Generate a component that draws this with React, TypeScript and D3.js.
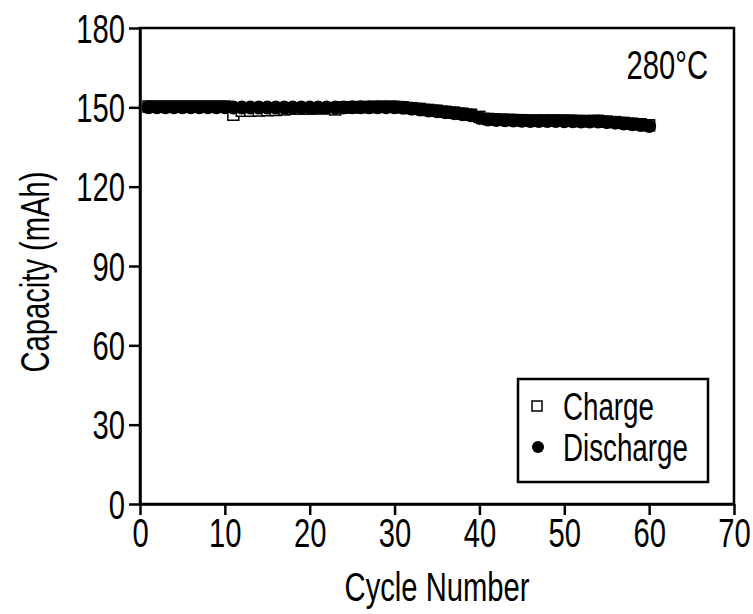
import React, { useEffect, useRef } from 'react';
import * as d3 from 'd3';

// cycle numbers 1..60
const cycles: number[] = [
  1, 2, 3, 4, 5, 6, 7, 8, 9, 10,
  11, 12, 13, 14, 15, 16, 17, 18, 19, 20,
  21, 22, 23, 24, 25, 26, 27, 28, 29, 30,
  31, 32, 33, 34, 35, 36, 37, 38, 39, 40,
  41, 42, 43, 44, 45, 46, 47, 48, 49, 50,
  51, 52, 53, 54, 55, 56, 57, 58, 59, 60,
];

// charge capacity (mAh)
const charge: number[] = [
  150.3, 150.3, 150.3, 150.3, 150.3, 150.3, 150.3, 150.3, 150.3, 150.3,
  147.2, 148.7, 148.7, 148.8, 148.9, 149.0, 149.2, 149.5, 149.5, 149.5,
  149.6, 149.6, 149.2, 150.0, 150.0, 150.1, 150.1, 150.2, 150.2, 150.2,
  150.0, 149.7, 149.4, 149.0, 148.7, 148.3, 148.0, 147.6, 147.2, 146.4,
  145.6, 145.4, 145.3, 145.2, 145.1, 145.0, 145.0, 145.0, 145.0, 145.0,
  144.9, 144.8, 144.8, 144.9, 144.6, 144.4, 144.1, 143.8, 143.6, 143.2,
];

// discharge capacity (mAh)
const discharge: number[] = [
  150.0, 150.0, 150.0, 150.0, 150.0, 150.0, 150.0, 150.0, 150.0, 150.0,
  149.9, 149.9, 149.9, 149.9, 149.9, 149.9, 149.9, 149.9, 149.9, 149.9,
  149.9, 149.9, 149.9, 149.9, 150.0, 150.0, 150.0, 150.0, 150.0, 150.0,
  149.8, 149.5, 149.2, 148.8, 148.5, 148.1, 147.8, 147.4, 147.0, 146.0,
  145.4, 145.2, 145.1, 145.0, 144.9, 144.8, 144.8, 144.8, 144.8, 144.7,
  144.7, 144.6, 144.6, 144.6, 144.4, 144.2, 143.9, 143.6, 143.3, 142.9,
];

const xTicks: number[] = [0, 10, 20, 30, 40, 50, 60, 70];
const yTicks: number[] = [0, 30, 60, 90, 120, 150, 180];

const FONT = "'Liberation Sans', Arial, sans-serif";
const FS = '40px';
const SX = 0.73; // narrow the glyphs, the original uses a condensed face

export default function App() {
  const ref = useRef<SVGSVGElement | null>(null);

  useEffect(() => {
    const svg = d3.select(ref.current);
    svg.selectAll('*').remove();

    const margin = { top: 28, right: 19, bottom: 110, left: 140 };
    const width = 753 - margin.left - margin.right;
    const height = 614 - margin.top - margin.bottom;

    const x = d3.scaleLinear().domain([0, 70]).range([0, width]);
    const y = d3.scaleLinear().domain([0, 180]).range([height, 0]);

    const g = svg.append('g').attr('transform', `translate(${margin.left},${margin.top})`);

    // narrow text placed at (px, py)
    const label = (parent: any, px: number, py: number, txt: string, anchor = 'start', size = FS) =>
      parent.append('text')
        .attr('transform', `translate(${px},${py}) scale(${SX},1)`)
        .attr('text-anchor', anchor)
        .style('font-family', FONT)
        .style('font-size', size)
        .text(txt);

    // frame
    g.append('rect')
      .attr('x', 0).attr('y', 0)
      .attr('width', width).attr('height', height)
      .attr('fill', 'none').attr('stroke', '#000').attr('stroke-width', 2.5);

    const xAxis = g.append('g')
      .attr('transform', `translate(0,${height})`)
      .call(d3.axisBottom(x).tickValues(xTicks).tickSizeInner(11).tickSizeOuter(0).tickPadding(6));
    const yAxis = g.append('g')
      .call(d3.axisLeft(y).tickValues(yTicks).tickSizeInner(11).tickSizeOuter(0).tickPadding(6));

    [xAxis, yAxis].forEach(a => {
      a.select('.domain').attr('stroke', '#000').attr('stroke-width', 2.5);
      a.selectAll('.tick line').attr('stroke', '#000').attr('stroke-width', 2.5);
      a.selectAll('.tick text')
        .attr('fill', '#000')
        .style('font-family', FONT)
        .style('font-size', FS);
    });
    xAxis.selectAll('.tick text')
      .attr('y', 0)
      .attr('dy', 0)
      .attr('transform', `translate(0,43) scale(${SX},1)`);
    yAxis.selectAll('.tick text')
      .attr('x', 0)
      .attr('dy', '0.35em')
      .attr('transform', `translate(-15,0) scale(${SX},1)`);

    // axis titles
    label(g, width / 2, height + 97, 'Cycle Number', 'middle');
    label(g, 0, 0, 'Capacity (mAh)', 'middle')
      .attr('transform', `translate(${49 - margin.left},${height / 2 + 6}) rotate(-90) scale(${SX},1)`);
    label(g, width - 26, 51, '280°C', 'end');

    // charge: open squares
    const s = 11;
    g.selectAll('.charge')
      .data(cycles)
      .enter()
      .append('rect')
      .attr('class', 'charge')
      .attr('x', (d) => x(d) - s / 2)
      .attr('y', (d, i) => y(charge[i]) - s / 2)
      .attr('width', s)
      .attr('height', s)
      .attr('fill', '#fff')
      .attr('stroke', '#000')
      .attr('stroke-width', 1.5);

    // discharge: filled circles
    g.selectAll('.discharge')
      .data(cycles)
      .enter()
      .append('circle')
      .attr('class', 'discharge')
      .attr('cx', (d) => x(d))
      .attr('cy', (d, i) => y(discharge[i]))
      .attr('r', 7)
      .attr('fill', '#000');

    // legend
    const lg = g.append('g').attr('transform', `translate(${518 - margin.left},${379 - margin.top})`);
    lg.append('rect')
      .attr('width', 190).attr('height', 103)
      .attr('fill', '#fff').attr('stroke', '#000').attr('stroke-width', 2.5);
    lg.append('rect')
      .attr('x', 14).attr('y', 22).attr('width', 10).attr('height', 10)
      .attr('fill', '#fff').attr('stroke', '#000').attr('stroke-width', 1.5);
    lg.append('circle')
      .attr('cx', 20).attr('cy', 68).attr('r', 6).attr('fill', '#000');
    label(lg, 45, 41, 'Charge', 'start', '38px');
    label(lg, 45, 82, 'Discharge', 'start', '38px');
  }, []);

  return (
    <svg
      ref={ref}
      width={753}
      height={614}
      style={{ position: 'absolute', left: 0, top: 0, background: '#fff' }}
    />
  );
}
